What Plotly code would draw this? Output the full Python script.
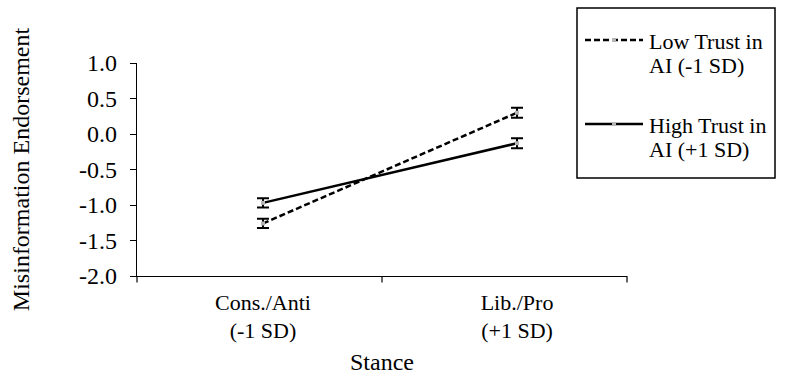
import plotly.graph_objects as go

# ---- data ----
stance_x = [-1, 1]                      # Stance (-1 SD, +1 SD)
stance_labels = ["Cons./Anti<br>(-1 SD)", "Lib./Pro<br>(+1 SD)"]
low_trust = [-1.26, 0.30]               # Low Trust in AI (-1 SD)
low_trust_err = [0.065, 0.07]
high_trust = [-0.97, -0.13]             # High Trust in AI (+1 SD)
high_trust_err = [0.065, 0.07]
y_ticks = [-2.0, -1.5, -1.0, -0.5, 0.0, 0.5, 1.0]
legend_names = [["Low Trust in", "AI (-1 SD)"], ["High Trust in", "AI (+1 SD)"]]

FONT = "Liberation Serif, Times New Roman, serif"

# plot area in pixels (for converting legend layout to paper coords)
L, R, T, B = 137, 627, 63, 276
def px(x):
    return (x - L) / (R - L)
def py(y):
    return (B - y) / (B - T)

fig = go.Figure()
styles = [dict(dash="6px,3px"), dict(dash="solid")]
for vals, errs, st, nm in [(low_trust, low_trust_err, styles[0], legend_names[0]),
                            (high_trust, high_trust_err, styles[1], legend_names[1])]:
    fig.add_trace(go.Scatter(
        x=stance_x, y=vals, name=" ".join(nm),
        mode="lines+markers", showlegend=False,
        line=dict(color="black", width=2.5, dash=st["dash"]),
        marker=dict(symbol="square", size=4, color="#b5b5b5"),
        error_y=dict(type="data", array=errs, color="black", thickness=2, width=6),
    ))

# x-axis tick marks (at axis ends and between the two categories)
for xp in [0, 0.5, 1]:
    fig.add_shape(type="line", xref="paper", yref="paper",
                  x0=xp, x1=xp, y0=0, y1=-0.03,
                  line=dict(color="black", width=1.2))

# custom legend (box, line samples, labels)
fig.add_shape(type="rect", xref="paper", yref="paper",
              x0=px(577), x1=px(775), y0=py(178), y1=py(8),
              line=dict(color="black", width=1.5), fillcolor="white", layer="below")
for i, (st, nm) in enumerate(zip(styles, legend_names)):
    ly = [40, 124][i]
    fig.add_shape(type="line", xref="paper", yref="paper",
                  x0=px(585), x1=px(643), y0=py(ly), y1=py(ly),
                  line=dict(color="black", width=2.5, dash=st["dash"]))
    fig.add_shape(type="rect", xref="paper", yref="paper",
                  x0=px(612), x1=px(616), y0=py(ly + 2), y1=py(ly - 2),
                  line=dict(width=0), fillcolor="#b5b5b5")
    for j, line_text in enumerate(nm):
        fig.add_annotation(xref="paper", yref="paper",
                           x=px(647), y=py(ly + 1 + 24 * j),
                           xanchor="left", yanchor="middle", showarrow=False,
                           text=line_text,
                           font=dict(family=FONT, size=22, color="black"))

fig.update_layout(
    width=786, height=375,
    margin=dict(l=L, r=786 - R, t=T, b=375 - B),
    paper_bgcolor="white", plot_bgcolor="white",
    font=dict(family=FONT, size=22, color="black"),
    showlegend=False,
    xaxis=dict(
        range=[-1.992, 1.866], showgrid=False, zeroline=False, automargin=False,
        showline=True, linecolor="black", linewidth=1.2,
        tickmode="array", tickvals=stance_x, ticktext=stance_labels,
        ticks="", ticklabelstandoff=6,
        tickfont=dict(family=FONT, size=22),
        title=dict(text="Stance", font=dict(family=FONT, size=24), standoff=22),
    ),
    yaxis=dict(
        range=[-2.0, 1.0], showgrid=False, zeroline=False, automargin=False,
        showline=True, linecolor="black", linewidth=1.2,
        tickmode="array", tickvals=y_ticks,
        ticktext=[f"{v:.1f}" for v in y_ticks],
        ticks="outside", ticklen=6, tickcolor="black", tickwidth=1.2,
        ticklabelstandoff=8,
        tickfont=dict(family=FONT, size=24),
        title=dict(text="Misinformation Endorsement", font=dict(family=FONT, size=24), standoff=42),
    ),
)

fig.write_html("out.html")
